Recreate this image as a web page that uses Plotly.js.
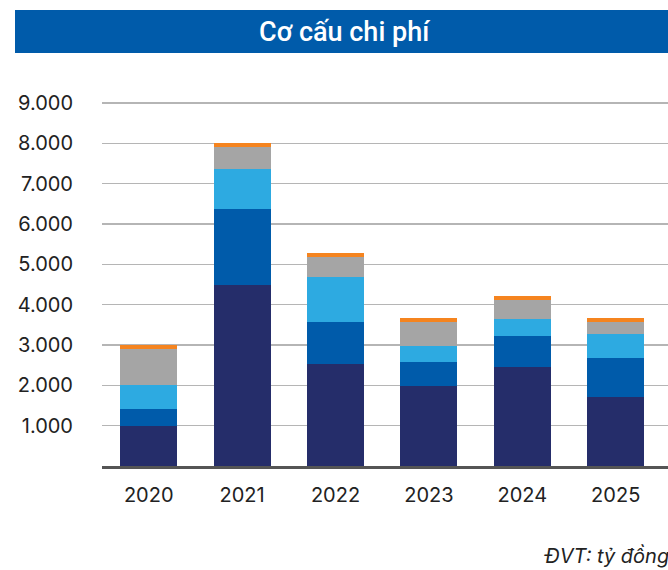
<!DOCTYPE html>
<html>
<head>
<meta charset="utf-8">
<script src="https://cdn.plot.ly/plotly-3.0.1.min.js"></script>
<style>
html,body{margin:0;padding:0;background:#fff;}
#chart{width:668px;height:570px;}
</style>
</head>
<body>
<div id="chart"></div>
<script>
const years = ['2020','2021','2022','2023','2024','2025'];
const seriesA = [1000, 4490, 2530, 1990, 2455, 1710];
const seriesB = [410, 1880, 1040, 590, 765, 965];
const seriesC = [590, 990, 1120, 395, 425, 595];
const seriesD = [900, 550, 500, 600, 470, 300];
const seriesE = [100, 90, 100, 90, 100, 100];
const tickValues = [1000,2000,3000,4000,5000,6000,7000,8000,9000];
const tickLabels = ['1.000','2.000','3.000','4.000','5.000','6.000','7.000','8.000','9.000'];
const chartTitle = 'Cơ cấu chi phí';
const unitNote = 'ĐVT: tỷ đồng';

const colors = ['#252D6A','#005BAA','#2DAAE1','#A5A5A5','#F5841F'];
const all = [seriesA, seriesB, seriesC, seriesD, seriesE];
const traces = all.map((s, i) => ({
  type: 'bar',
  x: years,
  y: s,
  marker: {color: colors[i], line: {width: 0}},
  hoverinfo: 'skip',
  showlegend: false
}));

const W = 668, L = 102, R = 0;
const pw = W - L - R;
const px = v => (v - L) / pw;

const layout = {
  width: 668, height: 570,
  margin: {l: L, r: R, t: 99, b: 104},
  barmode: 'stack',
  bargap: 0.39,
  paper_bgcolor: '#ffffff',
  plot_bgcolor: '#ffffff',
  font: {family: 'Inter, sans-serif', color: '#222222'},
  xaxis: {
    type: 'category',
    range: [-0.5, 5.56],
    showgrid: false,
    showline: true,
    linecolor: '#555555',
    linewidth: 2.5,
    ticks: 'outside',
    ticklen: 9,
    tickcolor: 'rgba(0,0,0,0)',
    tickfont: {family: 'Inter, sans-serif', size: 20, color: '#222222'},
    fixedrange: true
  },
  yaxis: {
    range: [0, 9100],
    tickvals: tickValues,
    ticktext: tickLabels,
    showgrid: true,
    gridcolor: '#b5b5b5',
    gridwidth: 1.5,
    zeroline: false,
    showline: false,
    ticks: '',
    ticklabelstandoff: 28,
    tickfont: {family: 'Inter, sans-serif', size: 20, color: '#222222'},
    fixedrange: true
  },
  shapes: [
    {type: 'rect', xref: 'paper', yref: 'paper',
     x0: px(15), x1: px(668), y0: (466 - 53) / 367 * 1, y1: (466 - 10) / 367,
     fillcolor: '#005BAA', line: {width: 0}, layer: 'above'}
  ],
  annotations: [
    {xref: 'paper', yref: 'paper', x: px(345), y: (466 - 31.5) / 367,
     xanchor: 'center', yanchor: 'middle', showarrow: false,
     text: chartTitle,
     font: {family: 'Roboto, sans-serif', size: 27, color: '#ffffff', weight: 500}},
    {xref: 'paper', yref: 'paper', x: px(542), y: (466 - 556) / 367,
     xanchor: 'left', yanchor: 'middle', showarrow: false,
     text: '<i>' + unitNote + '</i>',
     font: {family: 'Inter, sans-serif', size: 20, color: '#222222'}}
  ]
};

Plotly.newPlot('chart', traces, layout, {displayModeBar: false, staticPlot: true});
</script>
</body>
</html>
